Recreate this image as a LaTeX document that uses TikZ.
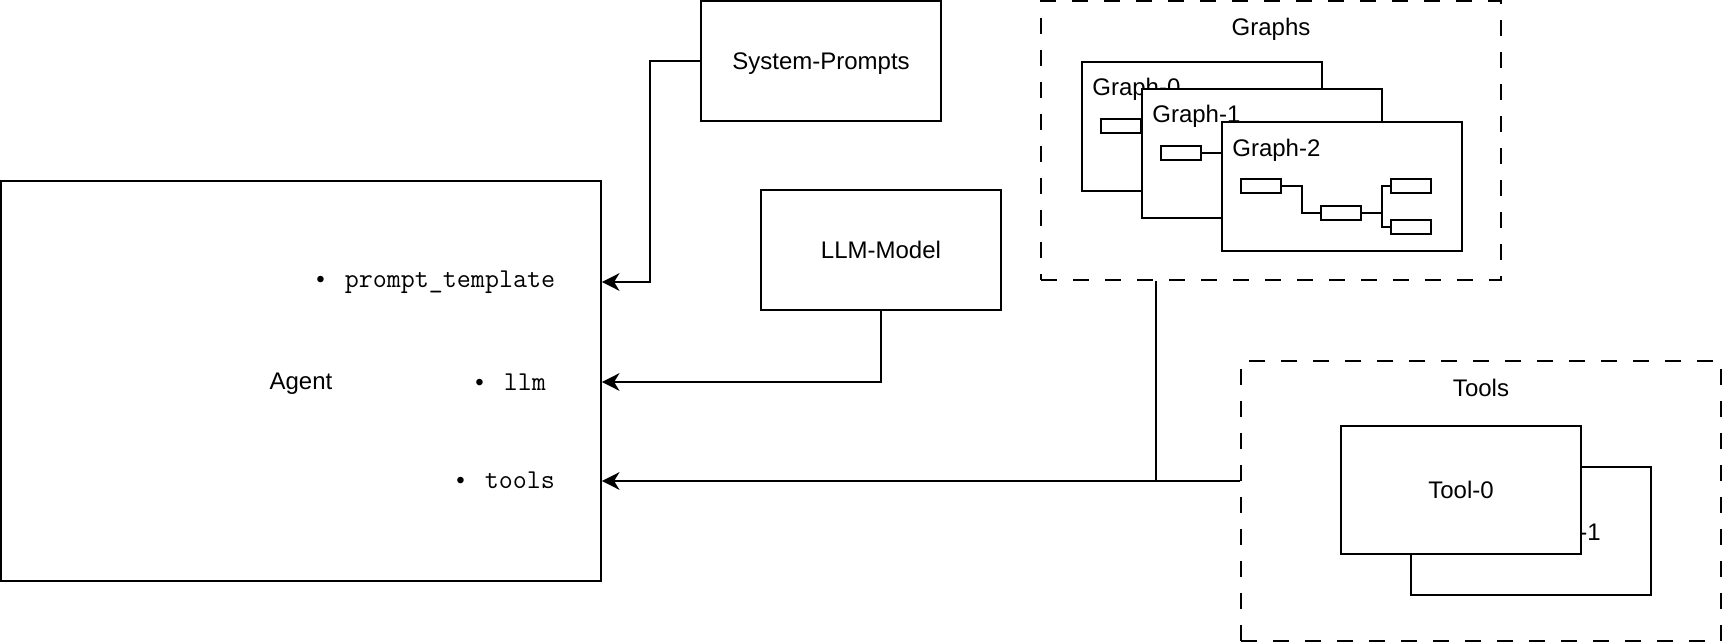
\documentclass[tikz,border=0pt]{standalone}
\usepackage{fontspec}
\setmainfont{Liberation Sans}
\usetikzlibrary{arrows.meta}
\newcommand{\fieldfont}{\fontsize{15.5pt}{18pt}\selectfont\ttfamily}
\tikzset{
  box/.style={draw, rectangle, fill=white, line width=1pt, inner sep=0pt, text depth=0pt, minimum width=4.8cm, minimum height=2.4cm},
  group/.style={draw, rectangle, dash pattern=on 0.32cm off 0.32cm, line width=1pt, inner sep=0pt},
  mini/.style={draw, rectangle, fill=white, line width=1pt, inner sep=0pt, minimum width=0.8cm, minimum height=0.28cm},
  item/.style={anchor=west, inner sep=0pt},
  link/.style={line width=1pt},
  arr/.style={link, -{Stealth[length=10pt, width=10pt, inset=3pt]}}
}
\begin{document}
\begin{tikzpicture}[x=0.02cm, y=-0.02cm, font=\fontsize{13.66pt}{16pt}\selectfont]
\useasboundingbox (0,0) rectangle (1722,642);
% agent and its fields
\node[box, minimum width=12cm, minimum height=8cm] (agent) at (301,381) {Agent};
\node[item] (ptpl) at (316,282) {\textbullet\hspace{0.4cm}{\fieldfont prompt\_template}};
\node[item] (llmitem) at (475,382) {\textbullet\hspace{0.4cm}{\fieldfont llm}};
\node[item] (toolitem) at (456,480) {\textbullet\hspace{0.4cm}{\fieldfont tools}};
% inputs
\node[box] (sysprompt) at (821,61) {System-Prompts};
\node[box] (llmmodel) at (881,250) {LLM-Model};
% graphs
\node[group, minimum width=9.2cm, minimum height=5.58cm] (graphs) at (1271,140.5) {};
\node[anchor=base] (graphslbl) at (1271,36) {Graphs};
\foreach \i/\x/\y in {0/1081/61, 1/1141/88, 2/1221/121} {
  \node[box, anchor=north west, minimum height=2.58cm] (graph\i) at (\x,\y) {};
  \node[anchor=base west, inner sep=0pt] (graph\i lbl) at ({\x+11},{\y+35}) {Graph-\i};
  \node[mini] (g\i a) at ({\x+40},{\y+65}) {};
  \node[mini] (g\i b) at ({\x+120},{\y+92}) {};
  \node[mini] (g\i c) at ({\x+190},{\y+65}) {};
  \node[mini] (g\i d) at ({\x+190},{\y+106}) {};
  \draw[link] (g\i a.east) -- ++(20,0) |- (g\i b.west);
  \draw[link] (g\i b.east) -- ++(20,0) |- (g\i c.west);
  \draw[link] (g\i b.east) -- ++(20,0) |- (g\i d.west);
}
% tools
\node[group, minimum width=9.6cm, minimum height=5.6cm] (tools) at (1481,501) {};
\node[anchor=base] (toolslbl) at (1481,396) {Tools};
\node[box, minimum height=2.56cm] (tool1) at (1531,531) {};
\node[inner sep=0pt] (tool1lbl) at (1568,532) {Tool-1};
\node[box, minimum height=2.56cm] (tool0) at (1461,490) {Tool-0};
% connectors
\draw[arr] (sysprompt.west) -- ++(-50,0) |- (agent.east |- ptpl);
\draw[arr] (llmmodel.south) |- (agent.east |- llmitem);
\coordinate (gjoin) at (1156,481);
\draw[link] (graphs.south -| gjoin) -- (gjoin);
\draw[arr] (tools.west |- gjoin) -- (agent.east |- gjoin);
\end{tikzpicture}
\end{document}
